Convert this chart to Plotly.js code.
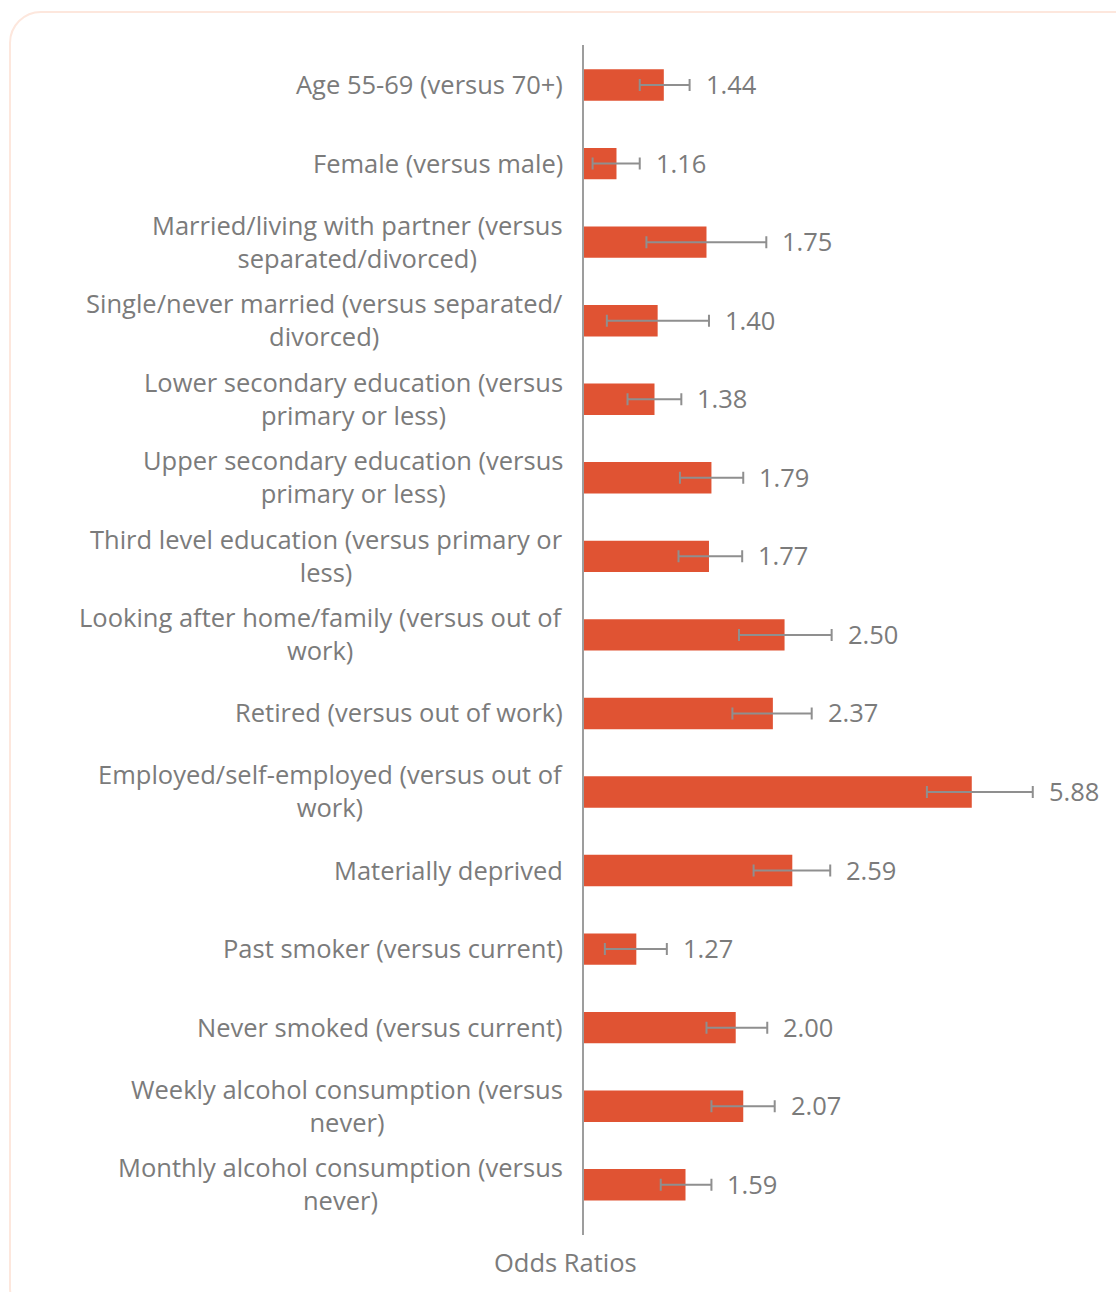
<!DOCTYPE html>
<html>
<head>
<meta charset="utf-8">
<script src="https://cdn.plot.ly/plotly-3.0.1.min.js"></script>
<style>
  html, body { margin: 0; padding: 0; background: #ffffff; overflow: hidden; }
  #frame { position: absolute; left: 9px; top: 11px; width: 1140px; height: 1310px;
           border: 2px solid #fde7dd; border-radius: 32px; pointer-events: none; box-sizing: border-box; }
  #chart { position: absolute; left: 0; top: 0; width: 1116px; height: 1292px; }
</style>
</head>
<body>
<div id="chart"></div>
<div id="frame"></div>
<script>
const categories = [
  "Age 55-69 (versus 70+)",
  "Female (versus male)",
  "Married/living with partner (versus<br>separated/divorced)",
  "Single/never married (versus separated/<br>divorced)",
  "Lower secondary education (versus<br>primary or less)",
  "Upper secondary education (versus<br>primary or less)",
  "Third level education (versus primary or<br>less)",
  "Looking after home/family (versus out of<br>work)",
  "Retired (versus out of work)",
  "Employed/self-employed (versus out of<br>work)",
  "Materially deprived",
  "Past smoker (versus current)",
  "Never smoked (versus current)",
  "Weekly alcohol consumption (versus<br>never)",
  "Monthly alcohol consumption (versus<br>never)"
];
const oddsRatios = [1.44, 1.16, 1.75, 1.40, 1.38, 1.79, 1.77, 2.50, 2.37, 5.88, 2.59, 1.27, 2.00, 2.07, 1.59];
const ciLower    = [1.29, 1.04, 1.33, 1.11, 1.22, 1.55, 1.54, 2.03, 1.97, 4.79, 2.17, 1.10, 1.75, 1.79, 1.42];
const ciUpper    = [1.62, 1.29, 2.30, 1.77, 1.56, 2.07, 2.06, 3.10, 2.83, 7.77, 3.08, 1.46, 2.31, 2.39, 1.79];
const valueLabels = ["1.44","1.16","1.75","1.40","1.38","1.79","1.77","2.50","2.37","5.88","2.59","1.27","2.00","2.07","1.59"];
const axisTitle = "Odds Ratios";

const FONT = "'Open Sans', Roboto, 'Liberation Sans', Arial, sans-serif";
const TEXTC = "#7b7b7b";
const FS = 25.5;
const idx = categories.map((_, i) => i);

const bars = {
  type: "bar",
  orientation: "h",
  y: idx,
  x: oddsRatios.map(v => v - 1),
  base: oddsRatios.map(() => 1),
  width: 0.4,
  marker: { color: "#e05333", line: { width: 0 } },
  hoverinfo: "skip",
  showlegend: false
};

const errs = {
  type: "scatter",
  mode: "markers",
  y: idx,
  x: oddsRatios,
  marker: { opacity: 0, size: 1 },
  error_x: {
    type: "data",
    symmetric: false,
    array: ciUpper.map((u, i) => u - oddsRatios[i]),
    arrayminus: ciLower.map((l, i) => oddsRatios[i] - l),
    color: "#8f8f8f",
    thickness: 2,
    width: 6
  },
  hoverinfo: "skip",
  showlegend: false
};

const annotations = [];
categories.forEach((c, i) => {
  annotations.push({
    xref: "paper", yref: "y", x: 0, y: i, text: c,
    xanchor: "right", yanchor: "middle", align: "center",
    xshift: -19, yshift: 1, showarrow: false,
    font: { family: FONT, size: FS, color: TEXTC }
  });
  annotations.push({
    xref: "x", yref: "y", x: Math.log10(ciUpper[i]), y: i, text: valueLabels[i],
    xanchor: "left", yanchor: "middle", xshift: 14, yshift: 1, showarrow: false,
    font: { family: FONT, size: FS, color: TEXTC }
  });
});
annotations.push({
  xref: "paper", yref: "paper", x: -0.036, y: 0, yshift: -27,
  text: axisTitle, xanchor: "center", yanchor: "middle", showarrow: false,
  font: { family: FONT, size: FS, color: TEXTC }
});

const layout = {
  width: 1116, height: 1292,
  margin: { l: 584, r: 28, t: 45, b: 57 },
  paper_bgcolor: "rgba(0,0,0,0)",
  plot_bgcolor: "rgba(0,0,0,0)",
  xaxis: {
    type: "log", range: [0, 1],
    showgrid: false, zeroline: false, showline: false,
    showticklabels: false, ticks: ""
  },
  yaxis: {
    range: [14.64, -0.51],
    showgrid: false, zeroline: false,
    showline: true, linecolor: "#9d9d9d", linewidth: 2,
    showticklabels: false, ticks: ""
  },
  annotations: annotations,
  font: { family: FONT, color: TEXTC }
};

Plotly.newPlot("chart", [bars, errs], layout, { staticPlot: true, displayModeBar: false });
</script>
</body>
</html>
